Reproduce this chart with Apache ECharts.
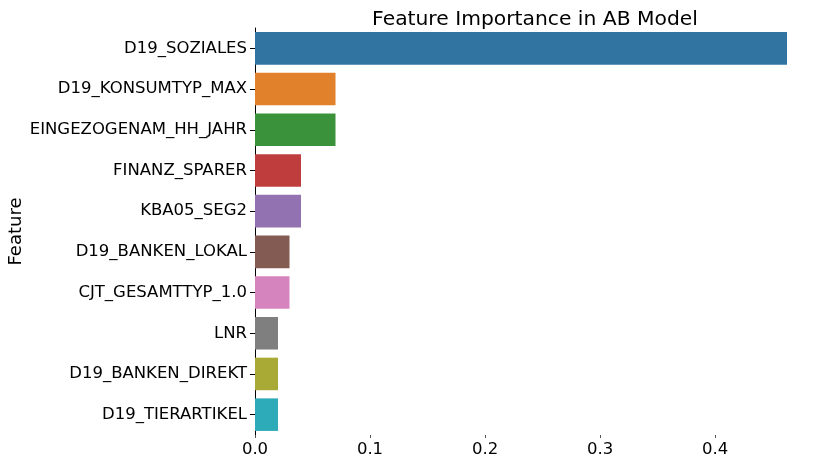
<!DOCTYPE html>
<html>
<head>
<meta charset="utf-8">
<script src="https://cdn.jsdelivr.net/npm/echarts@6/dist/echarts.min.js"></script>
<style>
  html, body { margin: 0; padding: 0; background: #fff; }
  #chart { width: 823px; height: 465px; }
</style>
</head>
<body>
<div id="chart"></div>
<script>
var features = ['D19_SOZIALES', 'D19_KONSUMTYP_MAX', 'EINGEZOGENAM_HH_JAHR', 'FINANZ_SPARER', 'KBA05_SEG2',
  'D19_BANKEN_LOKAL', 'CJT_GESAMTTYP_1.0', 'LNR', 'D19_BANKEN_DIREKT', 'D19_TIERARTIKEL'];
var importance = [0.4626, 0.07, 0.07, 0.04, 0.04, 0.03, 0.03, 0.02, 0.02, 0.02];
var tickValues = [0, 0.1, 0.2, 0.3, 0.4];
var palette = ['#3274a1', '#e1812c', '#3a923a', '#c03d3e', '#9372b2',
  '#845b53', '#d684bd', '#7f7f7f', '#a9aa35', '#2eabb8'];

var chart = echarts.init(document.getElementById('chart'));
var font = 'DejaVu Sans';

var option = {
  animation: false,
  title: {
    text: 'Feature Importance in AB Model',
    left: 530,
    top: 5,
    textAlign: 'center',
    textStyle: { fontFamily: font, fontSize: 20.3, fontWeight: 'normal', color: '#000' }
  },
  grid: { left: 255, right: 36, top: 28, bottom: 30, outerBoundsMode: 'none', containLabel: false },
  xAxis: {
    type: 'value',
    min: 0,
    max: 0.4626,
    axisLine: { show: false },
    splitLine: { show: false },
    axisTick: { show: true, length: 3, lineStyle: { color: '#555' }, customValues: tickValues },
    axisLabel: {
      customValues: tickValues,
      fontFamily: font, fontSize: 16.5, color: '#000', margin: 6,
      formatter: function (v) { return v.toFixed(1); }
    }
  },
  yAxis: {
    type: 'category',
    inverse: true,
    data: features,
    name: 'Feature',
    nameLocation: 'middle',
    nameRotate: 90,
    nameGap: 230,
    nameMoveOverlap: false,
    nameTextStyle: { fontFamily: font, fontSize: 18, color: '#000' },
    axisLine: { show: true, lineStyle: { color: '#000', width: 1 } },
    axisTick: { show: true, alignWithLabel: true, length: 5, lineStyle: { color: '#000' } },
    axisLabel: { fontFamily: font, fontSize: 16.5, color: '#000', margin: 8 }
  },
  series: [{
    type: 'bar',
    barWidth: '80%',
    data: importance.map(function (v, i) {
      return { value: v, itemStyle: { color: palette[i] } };
    })
  }]
};

chart.setOption(option);
</script>
</body>
</html>
